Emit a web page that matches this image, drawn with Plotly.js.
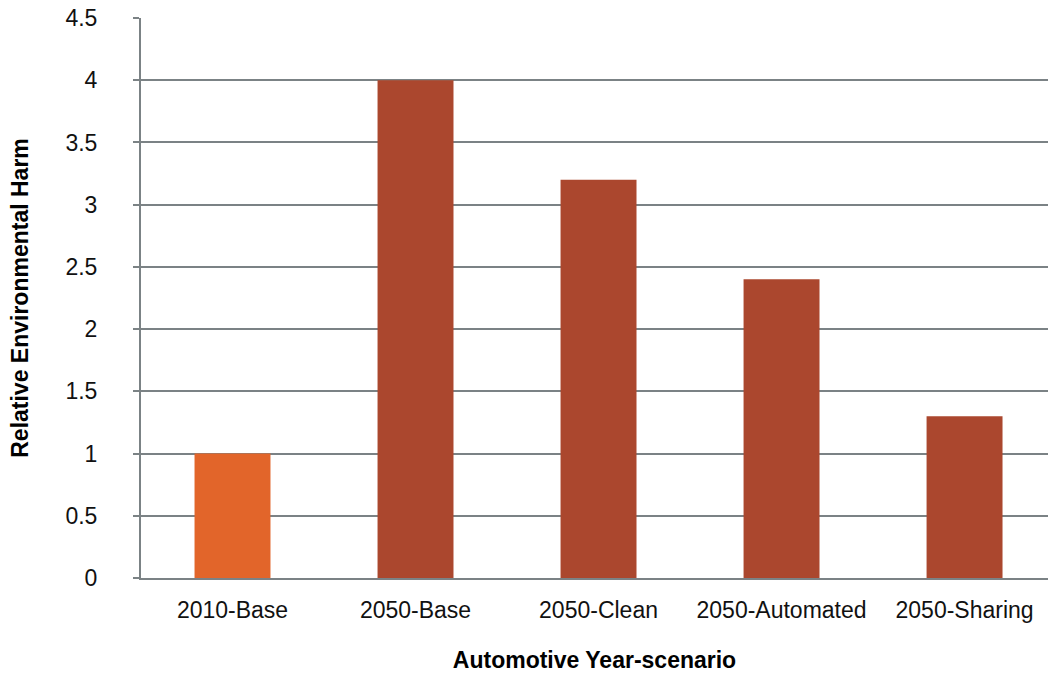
<!DOCTYPE html>
<html>
<head>
<meta charset="utf-8">
<script src="https://cdn.plot.ly/plotly-3.0.1.min.js"></script>
<style>html,body{margin:0;padding:0;background:#fff;}#chart{width:1048px;height:679px;}</style>
</head>
<body>
<div id="chart"></div>
<script>
const categories = ["2010-Base", "2050-Base", "2050-Clean", "2050-Automated", "2050-Sharing"];
const values = [1.0, 4.0, 3.2, 2.4, 1.3];
const barColors = ["#E2652A", "#AB472E", "#AB472E", "#AB472E", "#AB472E"];
const yTickVals = [0, 0.5, 1, 1.5, 2, 2.5, 3, 3.5, 4, 4.5];
const yTickText = ["0", "0.5", "1", "1.5", "2", "2.5", "3", "3.5", "4", "4.5"];

const FONT = "'Liberation Sans Narrow', 'Arial Narrow', 'Liberation Sans', sans-serif";
const GRID = "#7B8285";

const trace = {
  type: "bar",
  x: categories.map((c, i) => i),
  y: values,
  marker: {color: barColors},
  width: 0.415,
  hoverinfo: "x+y"
};

const layout = {
  width: 1048,
  height: 679,
  margin: {l: 141, r: 0, t: 18, b: 101},
  paper_bgcolor: "#fff",
  plot_bgcolor: "#fff",
  showlegend: false,
  font: {family: FONT, color: "#111", size: 23},
  xaxis: {
    range: [-0.5, 4.456],
    tickvals: [0, 1, 2, 3, 4],
    ticktext: categories,
    showgrid: false,
    zeroline: false,
    showline: true,
    linecolor: GRID,
    linewidth: 2,
    ticks: "",
    ticklabelstandoff: 10,
    tickfont: {family: FONT, size: 23, color: "#111"},
    title: {text: "<b>Automotive Year-scenario</b>", standoff: 30, font: {family: FONT, size: 23, color: "#000"}}
  },
  yaxis: {
    range: [0, 4.5],
    tickvals: yTickVals,
    ticktext: yTickText,
    showgrid: true,
    gridcolor: GRID,
    gridwidth: 2,
    zeroline: false,
    showline: true,
    linecolor: GRID,
    linewidth: 2,
    ticks: "outside",
    ticklen: 6,
    tickwidth: 2,
    tickcolor: GRID,
    ticklabelstandoff: 31,
    tickfont: {family: FONT, size: 23, color: "#111"},
    title: {text: "<b>Relative Environmental Harm</b>", standoff: 30, font: {family: FONT, size: 23, color: "#000"}}
  }
};

Plotly.newPlot("chart", [trace], layout, {displayModeBar: false, staticPlot: true});
</script>
</body>
</html>
